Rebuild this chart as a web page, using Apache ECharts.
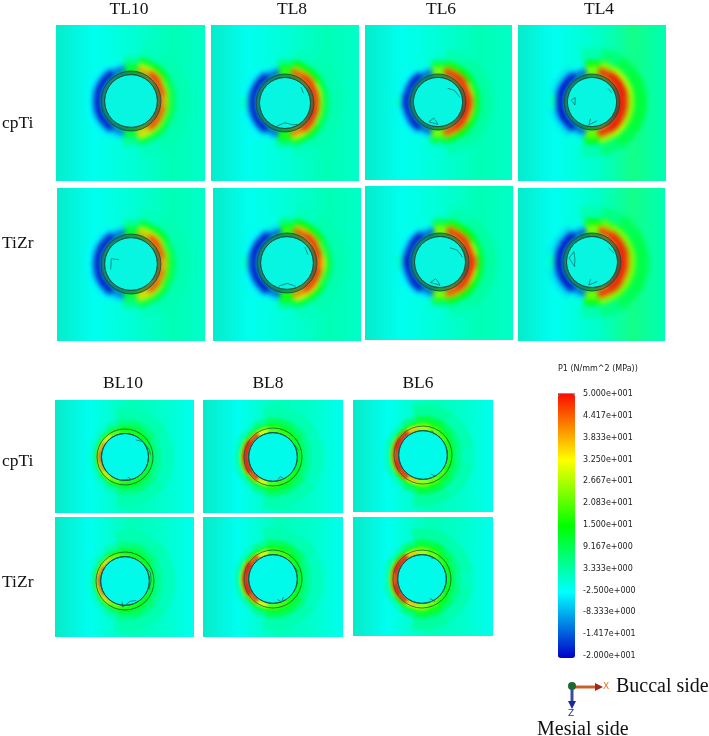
<!DOCTYPE html>
<html><head><meta charset="utf-8">
<style>html,body{margin:0;padding:0;background:#fff}#c{width:709px;height:736px}</style>
<script src="https://cdn.jsdelivr.net/npm/echarts@6/dist/echarts.min.js"></script>
</head><body><div id="c"></div>
<script>
// Sampling directions (degrees, counter-clockwise from +X / buccal)
const angles = [0,22.5,45,67.5,90,112.5,135,157.5,180,202.5,225,247.5,270,292.5,315,337.5];
const tlEdges = [0.88,1,1.08,1.18,1.3,1.5,1.95];
const blEdges = [0.84,0.92,1,1.06,1.15,1.35,1.75];
const legendTicks = ['-2.000e+001','-1.417e+001','-8.333e+000','-2.500e+000','3.333e+000','9.167e+000','1.500e+001','2.083e+001','2.667e+001','3.250e+001','3.833e+001','4.417e+001','5.000e+001'];
const scaleColors = ['#0000c8','#00ffff','#00ff00','#ffff00','#f81000'];
const _ = null; // no departure from the far field in this direction

// P1 stress read per band (inner to outer) and direction
const tl10Cp = [
 [42,40,34,22,12,6,3,2,2,2,3,5,14,24,36,42],
 [44,50,50,42,14,-16,-20,-20,-20,-20,-20,-16,12,38,50,48],
 [38,44,50,38,12,-12,-20,-20,-20,-20,-20,-10,10,36,46,42],
 [22,26,36,28,8,-5,-13,-13,-12,-13,-12,-5,8,28,28,23],
 [9,10,14,12,4,-1,-3,-3,-2,-3,-3,-1,4,10,11,9],
 [3,3,3,2,_,_,_,_,_,_,_,_,_,2,3,3]];
const tl8Cp = [
 [44,42,36,24,12,5,2,2,2,2,3,6,12,26,40,46],
 [50,50,50,48,18,-18,-20,-20,-20,-20,-20,-18,16,46,50,50],
 [46,50,50,46,20,-12,-20,-20,-20,-20,-20,-12,18,42,50,48],
 [26,32,38,36,14,-5,-14,-13,-12,-13,-14,-5,14,32,36,28],
 [10,11,14,15,6,-1,-3,-3,1,-3,-3,-1,6,12,13,10],
 [3,3,3,2,_,_,_,_,_,_,_,_,_,2,3,3]];
const tl6Cp = [
 [46,44,38,28,14,6,2,2,2,2,3,6,14,30,42,48],
 [50,50,50,50,26,-18,-20,-20,-20,-20,-20,-18,24,50,50,50],
 [50,50,50,50,26,-12,-20,-20,-20,-20,-20,-12,26,48,50,50],
 [38,34,42,40,20,-5,-15,-12,-15,-12,-15,-5,20,38,40,36],
 [13,12,15,16,9,-1,-3,-3,1,-3,-3,-1,9,14,15,13],
 [4,4,4,3,_,_,_,_,_,_,_,_,_,3,4,4]];
const tl4Cp = [
 [48,46,40,28,14,6,3,2,2,2,3,6,14,30,44,50],
 [50,50,50,50,24,-18,-20,-20,-20,-20,-20,-18,22,50,50,50],
 [50,50,50,50,26,-12,-20,-20,-20,-20,-20,-12,24,50,50,50],
 [46,50,50,42,22,-6,-16,-18,-16,-18,-16,-6,22,44,50,46],
 [26,28,28,24,14,-1,-5,-5,2,-5,-5,-1,14,26,28,26],
 [11,11,10,7,3,_,_,_,_,_,_,_,3,7,10,11]];
const tl10Zr = [
 [40,39,32,20,10,6,3,2,2,2,3,5,12,22,34,41],
 [42,50,50,40,14,-16,-20,-20,-20,-20,-20,-16,12,36,50,46],
 [37,42,48,38,14,-12,-20,-20,-20,-20,-20,-10,10,36,44,40],
 [20,24,34,28,8,-5,-13,-13,-12,-13,-13,-5,8,26,28,21],
 [9,9,13,12,4,-1,-3,-3,-2,-3,-3,-1,4,10,11,9],
 [3,3,3,2,_,_,_,_,_,_,_,_,_,2,3,3]];
const tl8Zr = [
 [42,40,34,22,12,5,2,2,2,2,3,6,12,24,38,44],
 [48,50,50,48,18,-18,-20,-20,-20,-20,-20,-18,16,44,50,50],
 [42,48,50,46,20,-12,-20,-20,-18,-20,-20,-12,18,42,48,46],
 [34,26,38,36,14,-5,-14,-15,-15,-14,-14,-5,14,32,34,26],
 [11,10,14,15,6,-1,-3,-3,1,-3,-3,-1,6,12,13,10],
 [3,3,3,2,_,_,_,_,_,_,_,_,_,2,3,3]];
const tl6Zr = [
 [44,42,36,26,14,6,2,2,2,2,3,6,14,28,40,46],
 [50,50,50,50,26,-18,-20,-20,-20,-20,-20,-18,24,50,50,50],
 [50,50,50,48,26,-12,-20,-20,-20,-20,-20,-12,26,46,50,50],
 [40,32,40,40,20,-5,-15,-12,-15,-12,-15,-5,20,38,38,34],
 [13,12,15,16,9,-1,-3,-3,1,-3,-3,-1,9,14,15,13],
 [4,4,4,3,_,_,_,_,_,_,_,_,_,3,4,4]];
const tl4Zr = [
 [48,46,38,28,14,6,3,2,2,2,3,6,14,30,44,48],
 [50,50,50,48,24,-18,-20,-20,-20,-20,-20,-18,22,50,50,50],
 [50,50,50,48,26,-12,-20,-20,-20,-20,-20,-12,24,50,50,50],
 [42,46,46,40,22,-6,-16,-16,-16,-16,-16,-6,22,42,46,42],
 [24,24,24,22,14,-1,-5,-5,2,-5,-5,-1,14,24,24,24],
 [10,10,9,6,3,_,_,_,_,_,_,_,3,6,9,10]];
const bl10Cp = [
 [12,12,16,18,18,22,34,44,48,44,36,24,18,18,16,12],
 [12,12,14,16,16,22,30,34,36,34,30,22,16,16,14,12],
 [8,9,12,13,14,16,16,16,14,16,16,16,14,13,12,9],
 [6,7,9,10,10,8,6,4,3,4,6,8,10,10,9,7],
 [4,4,6,7,6,3,1,0,0,0,1,3,6,7,6,4],
 [2,2,3,3,3,_,_,_,_,_,_,_,3,3,3,2]];
const bl8Cp = [
 [14,14,18,20,22,32,48,50,50,50,48,34,22,20,18,14],
 [13,13,16,18,20,30,46,50,50,50,46,30,20,18,16,13],
 [9,10,13,16,20,26,36,46,48,46,36,26,20,16,13,10],
 [7,8,10,12,14,12,14,22,24,22,14,12,14,12,10,8],
 [4,5,7,8,8,5,2,2,2,2,2,5,8,8,7,5],
 [2,2,3,3,3,_,_,_,_,_,_,_,3,3,3,2]];
const bl6Cp = [
 [18,18,22,24,28,38,50,50,50,50,48,38,28,24,22,18],
 [16,16,20,22,26,36,48,50,46,50,48,36,26,22,20,16],
 [12,13,16,22,26,30,42,46,44,46,42,32,26,22,16,13],
 [8,10,12,16,18,14,16,22,22,22,16,14,18,16,12,10],
 [5,6,8,10,10,6,2,2,1,2,2,6,10,10,8,6],
 [2,3,3,4,4,_,_,_,_,_,_,_,4,4,3,3]];
const bl10Zr = [
 [12,12,16,18,20,24,38,46,48,46,38,24,20,18,16,12],
 [12,12,14,16,16,22,30,34,36,34,30,22,16,16,14,12],
 [8,9,12,13,14,16,18,16,14,16,18,16,14,13,12,9],
 [6,7,9,10,10,8,6,4,3,4,6,8,10,10,9,7],
 [4,4,6,7,6,3,1,0,0,0,1,3,6,7,6,4],
 [2,2,3,3,3,_,_,_,_,_,_,_,3,3,3,2]];
const bl8Zr = [
 [14,14,18,20,22,34,48,50,50,50,48,34,22,20,18,14],
 [13,13,16,20,20,30,44,50,48,50,44,30,22,20,16,13],
 [9,10,14,18,20,26,38,48,50,48,38,26,20,18,14,10],
 [7,8,11,13,14,12,14,24,26,24,14,12,14,13,11,8],
 [4,5,8,9,8,5,2,2,2,2,2,5,8,9,8,5],
 [2,2,3,3,3,_,_,_,_,_,_,_,3,3,3,2]];
const bl6Zr = [
 [16,16,20,24,28,38,50,50,50,50,48,38,28,24,20,16],
 [15,15,18,22,26,36,48,50,44,50,48,36,26,22,18,15],
 [11,12,16,22,26,30,42,46,44,46,42,32,26,22,16,12],
 [8,9,12,16,18,14,16,22,22,22,16,14,18,16,12,9],
 [5,6,8,10,10,6,2,2,1,2,2,6,10,10,8,6],
 [2,3,3,4,4,_,_,_,_,_,_,_,4,4,3,3]];

// Thin element-edge traces inside the bore: [radius, angle] pairs, null breaks a trace
const sc = {
 a:[], b:[[.85,250],[.68,270],[.8,290],[.85,300],null,[.78,45],[.72,28]],
 c:[[.6,55],[.72,35],[.8,12],null,[.6,255],[.78,245],[.8,270],[.65,262],[.6,255]],
 d:[[.75,175],[.62,165],[.62,190],[.75,175],null,[.75,40],[.78,25],null,[.6,265],[.82,262],[.7,285]],
 e:[[.68,165],[.42,160],null,[.68,165],[.7,195]],
 f:[[.82,250],[.68,270],[.82,290],null,[.8,42],[.75,22]],
 g:[[.6,55],[.72,35],[.8,12],null,[.6,255],[.78,245],[.8,270],[.65,262],[.6,255]],
 h:[[.8,170],[.72,150],[.6,170],[.62,195],[.8,170],null,[.75,40],[.82,22],null,[.6,265],[.8,262],[.7,285]],
 i:[[.72,58],[.85,40],[.9,18],[.92,5],null,[.82,262],[.82,285],[.72,278]],
 j:[[.85,30],[.9,15],null,[.8,282],[.72,290],[.82,296]],
 k:[[.9,70],[.8,62],null,[.85,300],[.7,292]],
 l:[[.85,38],[.92,18],[.9,0],[.88,-20],null,[.72,262],[.9,265],[.72,285],[.78,300]],
 m:[[.85,30],[.9,15],null,[.72,300],[.85,290],[.72,282]],
 n:[[.85,70],[.78,62],null,[.9,300],[.72,292]]
};

const tlBg  = ['#06eccb','#00fff0','#00ffd2','#00ffb5','#00ffc8'];
const tl4Bg = ['#06eccb','#00fff2','#00ffc8','#12ff88','#00ffb4'];
const blBg  = ['#08eac8','#00fff0','#00ffb8','#00ffcc','#00ffee'];
const bgStops = [0,.25,.55,.78,1];

const panels = [
 {x:[56,205], y:[25,181],  c:[131,101], R:30, vals:tl10Cp, sc:sc.a, bg:tlBg,  k:'TL'},
 {x:[211,359],y:[25,181],  c:[285,103], R:29, vals:tl8Cp,  sc:sc.b, bg:tlBg,  k:'TL'},
 {x:[365,512],y:[25,180],  c:[438,102], R:28, vals:tl6Cp,  sc:sc.c, bg:tlBg,  k:'TL'},
 {x:[518,666],y:[25,181],  c:[592,102], R:28, vals:tl4Cp,  sc:sc.d, bg:tl4Bg, k:'TL'},
 {x:[57,205], y:[188,341], c:[131,264], R:30, vals:tl10Zr, sc:sc.e, bg:tlBg,  k:'TL'},
 {x:[213,361],y:[188,341], c:[287,263], R:30, vals:tl8Zr,  sc:sc.f, bg:tlBg,  k:'TL'},
 {x:[365,513],y:[186,340], c:[440,262], R:29, vals:tl6Zr,  sc:sc.g, bg:tlBg,  k:'TL'},
 {x:[518,665],y:[188,341], c:[592,262], R:29, vals:tl4Zr,  sc:sc.h, bg:tl4Bg, k:'TL'},
 {x:[55,194], y:[400,513], c:[125,457], R:28, vals:bl10Cp, sc:sc.i, bg:blBg,  k:'BL'},
 {x:[203,343],y:[400,513], c:[273,457], R:29, vals:bl8Cp,  sc:sc.j, bg:blBg,  k:'BL'},
 {x:[353,493],y:[400,512], c:[423,455], R:29, vals:bl6Cp,  sc:sc.k, bg:blBg,  k:'BL'},
 {x:[55,194], y:[517,637], c:[125,581], R:29, vals:bl10Zr, sc:sc.l, bg:blBg,  k:'BL'},
 {x:[203,343],y:[517,637], c:[273,579], R:29, vals:bl8Zr,  sc:sc.m, bg:blBg,  k:'BL'},
 {x:[353,493],y:[517,636], c:[422,579], R:29, vals:bl6Zr,  sc:sc.n, bg:blBg,  k:'BL'}
];

function sector(api, r0, r1, a0, a1, style){
  const o = api.coord([0,0]), cx=o[0], cy=o[1];
  const p1 = api.coord([r1, a0]), p2 = api.coord([r1, a1]), q = api.coord([r0, a0]);
  const start = Math.atan2(p2[1]-cy, p2[0]-cx);
  return {type:'sector', shape:{cx, cy, r0:Math.hypot(q[0]-cx,q[1]-cy), r:Math.hypot(p1[0]-cx,p1[1]-cy),
    startAngle:start, endAngle:start+(a1-a0)*Math.PI/180, clockwise:true}, style};
}
const stressRender = (params, api) => {
  if(isNaN(api.value(3))) return null;
  const col = api.visual('color'), a = api.value(0), d = 12;
  return sector(api, api.value(1), api.value(2), a-d, a+d, {fill:col});
};

const grids=[], xAxes=[], yAxes=[], polars=[], angleAxes=[], radiusAxes=[], series=[], stressIdx=[];
panels.forEach((p,i)=>{
  const isTL = p.k==='TL', edges = isTL?tlEdges:blEdges, maxR = isTL?2.4:1.9;
  grids.push({show:true, left:p.x[0], top:p.y[0], width:p.x[1]-p.x[0], height:p.y[1]-p.y[0], borderWidth:0,
    backgroundColor:{type:'linear',x:0,y:0,x2:1,y2:0,colorStops:p.bg.map((c,j)=>({offset:bgStops[j],color:c}))}});
  xAxes.push({gridIndex:i,show:false,type:'value'});
  yAxes.push({gridIndex:i,show:false,type:'value'});
  polars.push({center:p.c, radius:[0,p.R*maxR]});
  angleAxes.push({polarIndex:i,type:'value',min:0,max:360,startAngle:0,clockwise:false,show:false});
  radiusAxes.push({polarIndex:i,type:'value',min:0,max:maxR,show:false});
  const data=[];
  for(let b=p.vals.length-1;b>=0;b--) angles.forEach((a,j)=>data.push([a,edges[b],edges[b+1],p.vals[b][j]]));
  stressIdx.push(series.length);
  series.push({type:'custom',coordinateSystem:'polar',polarIndex:i,silent:true,animation:false,zlevel:isTL?1:2,z:3,clip:false,
    data,renderItem:stressRender,encode:{radius:2,angle:0}});
  const bore = edges[0];
  series.push({type:'custom',coordinateSystem:'polar',polarIndex:i,silent:true,animation:false,zlevel:4,z:4,clip:false,
    data:[[0,bore,0],[bore,1,1]],encode:{radius:1,angle:2},
    renderItem:(params,api)=>{
      const o=api.coord([0,0]), inner=api.coord([api.value(0),0]), outer=api.coord([api.value(1),0]);
      const r0=Math.hypot(inner[0]-o[0],inner[1]-o[1]), r=Math.hypot(outer[0]-o[0],outer[1]-o[1]);
      if(api.value(2)===0) return {type:'circle',shape:{cx:o[0],cy:o[1],r},
        style:{fill:isTL?'#06f6e2':'#00fbea',stroke:isTL?'#1c5a50':'#0c3a40',lineWidth:isTL?.7:1}};
      return {type:'ring',shape:{cx:o[0],cy:o[1],r0,r},
        style:isTL?{fill:'rgba(28,62,48,0.5)',stroke:'#22463a',lineWidth:.8}:{fill:'rgba(0,0,0,0)',stroke:'#1f5a3a',lineWidth:.8}};
    }});
  series.push({type:'line',coordinateSystem:'polar',polarIndex:i,silent:true,animation:false,zlevel:4,z:5,showSymbol:false,
    data:p.sc.map(q=>q||['-','-']),lineStyle:{color:'#1d4a4a',width:.6},connectNulls:false});
});

// Legend axis grid
const L = grids.length;
grids.push({left:558,top:394,width:17,height:262,show:false});
xAxes.push({gridIndex:L,show:false,type:'value'});
yAxes.push({gridIndex:L,type:'category',boundaryGap:false,position:'right',data:legendTicks,
  axisLine:{show:false},axisTick:{show:true,length:2,lineStyle:{color:'#333'}},splitLine:{show:false},
  axisLabel:{show:true,interval:0,margin:8,fontFamily:'DejaVu Sans',fontSize:8,color:'#222',padding:[0,0,4,0]}});

const serif='"Liberation Serif"';
const text=(t,x,y,size,fam,align,fill)=>({type:'text',x,y,silent:true,style:{text:t,font:size+'px '+fam,fill:fill||'#111',textAlign:align||'center',textVerticalAlign:'middle'}});
const colHeads=[['TL10',129,9],['TL8',292,9],['TL6',441,9],['TL4',599,9],['BL10',123,383],['BL8',268,383],['BL6',418,383]];
const rowHeads=[['cpTi',123],['TiZr',243],['cpTi',461],['TiZr',582]];
const graphics=[
  ...colHeads.map(h=>text(h[0],h[1],h[2],17.5,serif)),
  ...rowHeads.map(h=>text(h[0],2,h[1],17.5,serif,'left')),
  text('P1 (N/mm^2 (MPa))',558,369,8,'"DejaVu Sans"','left','#222'),
  {type:'line',silent:true,shape:{x1:558,y1:394,x2:575,y2:394},style:{stroke:'#222',lineWidth:1}},
  {type:'line',silent:true,shape:{x1:572,y1:687,x2:597,y2:687},style:{stroke:'#c8602c',lineWidth:3}},
  {type:'polygon',silent:true,shape:{points:[[595,683],[603,687],[595,691]]},style:{fill:'#a02818'}},
  {type:'line',silent:true,shape:{x1:572,y1:687,x2:572,y2:702},style:{stroke:'#3a4aa0',lineWidth:3}},
  {type:'polygon',silent:true,shape:{points:[[568,701],[572,709],[576,701]]},style:{fill:'#1a2a90'}},
  {type:'circle',silent:true,shape:{cx:572,cy:686,r:4},style:{fill:'#1d6a30'}},
  text('X',606,687,9,'"DejaVu Sans"','center','#e87020'),
  text('Z',571,714,9,'"DejaVu Sans"','center','#2030b0'),
  text('Buccal side',616,687,20,serif,'left'),
  text('Mesial side',537,730,20,serif,'left')
];

const chart=echarts.init(document.getElementById('c'),null,{renderer:'canvas'});
chart.setOption({animation:false,backgroundColor:'#fff',
  grid:grids,xAxis:xAxes,yAxis:yAxes,polar:polars,angleAxis:angleAxes,radiusAxis:radiusAxes,
  visualMap:{type:'continuous',min:-20,max:50,seriesIndex:stressIdx,dimension:3,left:558,top:394,itemWidth:17,itemHeight:264,padding:0,
    calculable:false,hoverLink:false,text:null,showLabel:false,indicatorSize:0,handleSize:0,inRange:{color:scaleColors}},
  series,graphic:{elements:graphics}});

// Soften the stress layers so the band steps read as a continuous contour plot
function soften(){
  document.querySelectorAll('#c canvas').forEach(cv=>{
    const id=cv.getAttribute('data-zr-dom-id');
    if(id==='zr_1') cv.style.filter='blur(2.4px)';
    if(id==='zr_2') cv.style.filter='blur(1.4px)';
  });
}
soften();
chart.on('finished',soften);
</script></body></html>
